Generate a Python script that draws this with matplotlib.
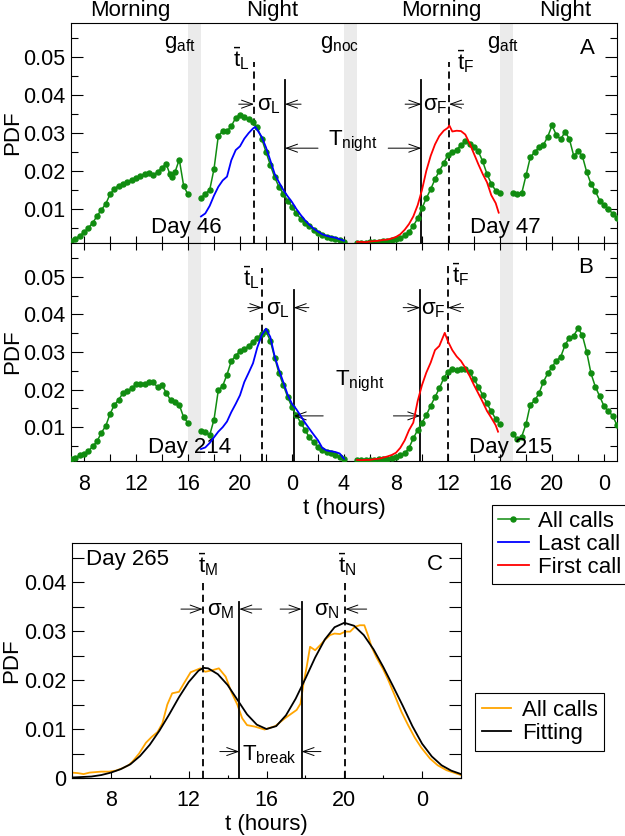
import matplotlib
matplotlib.use("Agg")
import matplotlib.pyplot as plt
from matplotlib.ticker import MultipleLocator, FuncFormatter

plt.rcParams['font.family'] = ['Liberation Sans', 'DejaVu Sans']
plt.rcParams['mathtext.default'] = 'regular'
plt.rcParams['font.size'] = 16

GREEN = '#108c10'
GRAY = '#ebebeb'

# ---------------- panel A (days 46 / 47) ----------------
a_morn_t = [7.00, 7.33, 7.67, 8.00, 8.33, 8.67, 9.00, 9.33, 9.67, 10.00, 10.33, 10.67, 11.00, 11.33,
            11.67, 12.00, 12.33, 12.67, 13.00, 13.33, 13.67, 14.00, 14.33, 14.60, 14.80, 15.00,
            15.33, 15.67, 16.00]
a_morn_p = [0.0014, 0.0021, 0.0029, 0.0038, 0.0050, 0.0063, 0.0081, 0.0097, 0.0113, 0.0138, 0.0153,
            0.0161, 0.0166, 0.0171, 0.0177, 0.0182, 0.0187, 0.0193, 0.0194, 0.0190, 0.0197, 0.0209,
            0.0218, 0.0192, 0.0184, 0.0197, 0.0230, 0.0160, 0.0138]
a_night_t = [17.00, 17.33, 17.67, 18.00, 18.33, 18.67, 19.00, 19.33, 19.67, 20.00, 20.33, 20.67,
             21.00, 21.33, 21.67, 22.00, 22.33, 22.67, 23.00, 23.33, 23.67, 24.00, 24.33, 24.67,
             25.00, 25.33, 25.67, 26.00, 26.33, 26.67, 27.00, 27.33, 27.67, 28.00]
a_night_p = [0.0128, 0.0140, 0.0150, 0.0205, 0.0292, 0.0305, 0.0305, 0.0318, 0.0340, 0.0348, 0.0342,
             0.0337, 0.0328, 0.0315, 0.0285, 0.0250, 0.0216, 0.0183, 0.0158, 0.0140, 0.0122, 0.0105,
             0.0088, 0.0074, 0.0064, 0.0054, 0.0045, 0.0037, 0.0031, 0.0027, 0.0024, 0.0021, 0.0018,
             0.0013]
a_morn2_t = [29.00, 29.33, 29.67, 30.00, 30.33, 30.67, 31.00, 31.33, 31.67, 32.00, 32.33, 32.67,
             33.00, 33.33, 33.67, 34.00, 34.33, 34.67, 35.00, 35.33, 35.67, 36.00, 36.33, 36.67,
             37.00, 37.33, 37.67, 38.00, 38.33, 38.67, 39.00, 39.33, 39.67, 40.00]
a_morn2_p = [0.0010, 0.0011, 0.0011, 0.0012, 0.0012, 0.0013, 0.0014, 0.0015, 0.0017, 0.0020, 0.0024,
             0.0030, 0.0040, 0.0055, 0.0075, 0.0102, 0.0128, 0.0152, 0.0178, 0.0200, 0.0220, 0.0243,
             0.0250, 0.0256, 0.0268, 0.0278, 0.0272, 0.0264, 0.0252, 0.0225, 0.0192, 0.0166, 0.0148,
             0.0142]
a_night2_t = [41.00, 41.33, 41.67, 42.00, 42.33, 42.67, 43.00, 43.33, 43.67, 44.00, 44.33, 44.67,
              45.00, 45.33, 45.67, 46.00, 46.33, 46.67, 47.00, 47.33, 47.67, 48.00, 48.33, 48.67, 49.00]
a_night2_p = [0.0143, 0.0140, 0.0141, 0.0188, 0.0236, 0.0250, 0.0262, 0.0268, 0.0290, 0.0320, 0.0295,
              0.0283, 0.0303, 0.0285, 0.0240, 0.0252, 0.0240, 0.0197, 0.0166, 0.0147, 0.0122, 0.0109,
              0.0100, 0.0087, 0.0076]
a_last_t = [17.00, 17.33, 17.67, 18.00, 18.33, 18.67, 19.00, 19.33, 19.67, 20.00, 20.33, 20.67, 21.00,
            21.17, 21.33, 21.67, 22.00, 22.33, 22.67, 23.00, 23.33, 23.67, 24.00, 24.33, 24.67, 25.00,
            25.33, 25.67, 26.00, 26.33, 26.67, 27.00, 27.33, 27.67, 28.00]
a_last_p = [0.0080, 0.0088, 0.0108, 0.0135, 0.0158, 0.0175, 0.0185, 0.0228, 0.0255, 0.0265, 0.0285,
            0.0300, 0.0312, 0.0316, 0.0308, 0.0290, 0.0262, 0.0228, 0.0192, 0.0170, 0.0150, 0.0133,
            0.0118, 0.0100, 0.0084, 0.0070, 0.0058, 0.0048, 0.0040, 0.0033, 0.0029, 0.0026, 0.0024,
            0.0020, 0.0016]
a_first_t = [29.00, 29.33, 29.67, 30.00, 30.33, 30.67, 31.00, 31.33, 31.67, 32.00, 32.33, 32.67, 33.00,
             33.33, 33.67, 34.00, 34.33, 34.67, 35.00, 35.33, 35.67, 36.00, 36.10, 36.33, 36.67, 37.00,
             37.33, 37.67, 38.00, 38.33, 38.67, 39.00, 39.33, 39.67, 39.90]
a_first_p = [0.0013, 0.0013, 0.0012, 0.0014, 0.0015, 0.0016, 0.0018, 0.0019, 0.0022, 0.0026, 0.0033,
             0.0045, 0.0060, 0.0080, 0.0110, 0.0150, 0.0200, 0.0240, 0.0270, 0.0292, 0.0306, 0.0314,
             0.0320, 0.0304, 0.0306, 0.0305, 0.0296, 0.0272, 0.0245, 0.0218, 0.0192, 0.0170, 0.0136,
             0.0115, 0.0090]

# ---------------- panel B (days 214 / 215) ----------------
b_morn_t = [7.00, 7.33, 7.67, 8.00, 8.33, 8.67, 9.00, 9.33, 9.67, 10.00, 10.33, 10.67, 11.00, 11.33,
            11.67, 12.00, 12.33, 12.67, 13.00, 13.33, 13.67, 14.00, 14.33, 14.67, 15.00, 15.33, 15.67,
            16.00]
b_morn_p = [0.0014, 0.0019, 0.0025, 0.0029, 0.0036, 0.0049, 0.0062, 0.0085, 0.0103, 0.0135, 0.0159,
            0.0173, 0.0191, 0.0197, 0.0203, 0.0214, 0.0215, 0.0216, 0.0219, 0.0219, 0.0206, 0.0212,
            0.0191, 0.0171, 0.0166, 0.0159, 0.0126, 0.0111]
b_night_t = a_night_t
b_night_p = [0.0089, 0.0087, 0.0079, 0.0120, 0.0198, 0.0210, 0.0240, 0.0276, 0.0290, 0.0303, 0.0308,
             0.0316, 0.0327, 0.0338, 0.0348, 0.0355, 0.0330, 0.0285, 0.0243, 0.0212, 0.0180, 0.0153,
             0.0132, 0.0112, 0.0093, 0.0073, 0.0060, 0.0047, 0.0038, 0.0033, 0.0030, 0.0026, 0.0020,
             0.0016]
b_morn2_t = a_morn2_t
b_morn2_p = [0.0012, 0.0012, 0.0012, 0.0013, 0.0013, 0.0014, 0.0015, 0.0016, 0.0018, 0.0021, 0.0025,
             0.0030, 0.0045, 0.0070, 0.0093, 0.0112, 0.0132, 0.0157, 0.0180, 0.0203, 0.0230, 0.0248,
             0.0255, 0.0251, 0.0255, 0.0254, 0.0246, 0.0228, 0.0208, 0.0185, 0.0163, 0.0142, 0.0122,
             0.0108]
b_night2_t = a_night2_t
b_night2_p = [0.0081, 0.0068, 0.0075, 0.0108, 0.0160, 0.0171, 0.0190, 0.0220, 0.0243, 0.0260, 0.0277,
              0.0287, 0.0318, 0.0338, 0.0343, 0.0363, 0.0345, 0.0300, 0.0243, 0.0208, 0.0182, 0.0156,
              0.0143, 0.0130, 0.0105]
b_last_t = [17.00, 17.33, 17.67, 18.00, 18.33, 18.67, 19.00, 19.33, 19.67, 20.00, 20.33, 20.67, 21.00,
            21.33, 21.67, 22.00, 22.33, 22.67, 23.00, 23.33, 23.67, 24.00, 24.33, 24.67, 25.00, 25.33,
            25.67, 26.00, 26.33, 26.67, 27.00, 27.33, 27.67, 28.00]
b_last_p = [0.0042, 0.0046, 0.0058, 0.0073, 0.0088, 0.0100, 0.0115, 0.0140, 0.0162, 0.0185, 0.0220,
            0.0245, 0.0270, 0.0312, 0.0345, 0.0362, 0.0340, 0.0288, 0.0252, 0.0220, 0.0186, 0.0162,
            0.0148, 0.0130, 0.0112, 0.0096, 0.0080, 0.0065, 0.0045, 0.0038, 0.0036, 0.0034, 0.0030,
            0.0016]
b_first_t = [29.00, 29.33, 29.67, 30.00, 30.33, 30.67, 31.00, 31.33, 31.67, 32.00, 32.33, 32.67, 33.00,
             33.33, 33.67, 34.00, 34.33, 34.67, 35.00, 35.33, 35.75, 36.00, 36.33, 36.67, 37.00, 37.33,
             37.67, 38.00, 38.33, 38.67, 39.00, 39.33, 39.67, 39.85]
b_first_p = [0.0013, 0.0012, 0.0013, 0.0013, 0.0015, 0.0016, 0.0019, 0.0022, 0.0026, 0.0032, 0.0045,
             0.0065, 0.0092, 0.0112, 0.0170, 0.0212, 0.0245, 0.0272, 0.0305, 0.0316, 0.0351, 0.0328,
             0.0305, 0.0288, 0.0276, 0.0258, 0.0236, 0.0212, 0.0190, 0.0167, 0.0143, 0.0125, 0.0105,
             0.0088]

# ---------------- panel C (day 265) ----------------
c_all_t = [6.0, 6.3, 6.6, 6.9, 7.2, 7.5, 7.9, 8.25, 8.6, 8.9, 9.1, 9.45, 9.8, 10.1, 10.4, 10.65, 10.9,
           11.15, 11.5, 11.75, 12.1, 12.35, 12.6, 12.85, 13.2, 13.55, 13.9, 14.2, 14.5, 14.75, 15.0,
           15.4, 15.9, 16.45, 16.95, 17.3, 17.55, 17.75, 17.9, 18.07, 18.24, 18.5, 18.75, 19.0, 19.27,
           19.5, 19.78, 20.04, 20.3, 20.55, 20.8, 21.03, 21.23, 21.4, 21.66, 22.0, 22.26, 22.6, 22.94,
           23.28, 23.63, 23.96, 24.4, 24.8, 25.25, 25.85, 26.0]
c_all_p = [0.0011, 0.0010, 0.0008, 0.0011, 0.0012, 0.0013, 0.0013, 0.0015, 0.0020, 0.0026, 0.0033,
           0.0050, 0.0072, 0.0084, 0.0094, 0.0112, 0.0150, 0.0173, 0.0176, 0.0193, 0.0216, 0.0220,
           0.0224, 0.0217, 0.0220, 0.0224, 0.0207, 0.0175, 0.0150, 0.0122, 0.0108, 0.0105, 0.0099,
           0.0106, 0.0122, 0.0132, 0.0139, 0.0152, 0.0192, 0.0228, 0.0268, 0.0261, 0.0271, 0.0282,
           0.0292, 0.0295, 0.0294, 0.0299, 0.0299, 0.0309, 0.0312, 0.0312, 0.0290, 0.0268, 0.0246,
           0.0222, 0.0200, 0.0168, 0.0135, 0.0108, 0.0082, 0.0062, 0.0040, 0.0026, 0.0016, 0.0008,
           0.0006]
c_fit_t = [6.0, 6.5, 7.0, 7.5, 8.0, 8.5, 9.0, 9.5, 10.0, 10.5, 11.0, 11.5, 12.0, 12.5, 12.75, 13.0,
           13.5, 14.0, 14.5, 15.0, 15.5, 16.0, 16.5, 17.0, 17.5, 18.0, 18.5, 19.0, 19.5, 20.0, 20.5,
           21.0, 21.5, 22.0, 22.5, 23.0, 23.5, 24.0, 24.5, 25.0, 25.5, 26.0]
c_fit_p = [0.0001, 0.0002, 0.0003, 0.0006, 0.0011, 0.0018, 0.0028, 0.0045, 0.0068, 0.0097, 0.0130,
           0.0165, 0.0196, 0.0219, 0.0225, 0.0224, 0.0212, 0.0190, 0.0160, 0.0130, 0.0109, 0.0100,
           0.0106, 0.0128, 0.0162, 0.0203, 0.0246, 0.0283, 0.0308, 0.0317, 0.0311, 0.0292, 0.0263,
           0.0227, 0.0188, 0.0148, 0.0106, 0.0070, 0.0044, 0.0026, 0.0015, 0.0008]

gaps = [(16, 17), (28, 29), (40, 41)]
periods = [(11.6, 'Morning'), (22.5, 'Night'), (35.5, 'Morning'), (45.0, 'Night')]


def hour_label(v, pos):
    return '%d' % (int(round(v)) % 24)


def arrow(ax, x0, x1, y):
    ax.annotate('', xy=(x1, y), xytext=(x0, y),
                arrowprops=dict(arrowstyle='->,head_length=0.5,head_width=0.18',
                                lw=0.7, color='black', shrinkA=0, shrinkB=0))


def style_top(ax, top_ticks):
    ax.set_xlim(7, 49)
    ax.set_ylim(0.001, 0.059)
    ax.xaxis.set_major_locator(MultipleLocator(4))
    ax.xaxis.set_minor_locator(MultipleLocator(2))
    ax.xaxis.set_major_formatter(FuncFormatter(hour_label))
    ax.yaxis.set_major_locator(MultipleLocator(0.01))
    ax.yaxis.set_minor_locator(MultipleLocator(0.005))
    ax.tick_params(axis='both', which='both', direction='in', right=True, top=top_ticks,
                   labelsize=15.5, width=0.8)
    ax.tick_params(axis='x', which='both', length=5, pad=9)
    ax.tick_params(axis='y', which='major', length=8.5, pad=4)
    ax.tick_params(axis='y', which='minor', length=5)
    ax.set_ylabel('PDF')
    ax.yaxis.set_label_coords(-0.088, 0.5)
    for g in gaps:
        ax.axvspan(g[0], g[1], color=GRAY, lw=0, zorder=0)


def draw_day(ax, d):
    for t, p in d['green']:
        ax.plot(t, p, color=GREEN, lw=1.1, marker='o', ms=3.6, zorder=3)
    ax.plot(d['last'][0], d['last'][1], color='#0000ff', lw=1.3, zorder=4)
    ax.plot(d['first'][0], d['first'][1], color='#ff0000', lw=1.3, zorder=4)


fig = plt.figure(figsize=(6.25, 8.36), dpi=100)
ax_a = fig.add_axes([71 / 625, 1 - 243 / 836, 546 / 625, 220 / 836])
ax_b = fig.add_axes([71 / 625, 1 - 461 / 836, 546 / 625, 218 / 836])
ax_c = fig.add_axes([72 / 625, 1 - 778 / 836, 389 / 625, 235 / 836])

style_top(ax_a, False)
style_top(ax_b, True)
ax_a.tick_params(axis='x', labelbottom=False)

draw_day(ax_a, {'green': [(a_morn_t, a_morn_p), (a_night_t, a_night_p),
                          (a_morn2_t, a_morn2_p), (a_night2_t, a_night2_p)],
                'last': (a_last_t, a_last_p), 'first': (a_first_t, a_first_p)})
draw_day(ax_b, {'green': [(b_morn_t, b_morn_p), (b_night_t, b_night_p),
                          (b_morn2_t, b_morn2_p), (b_night2_t, b_night2_p)],
                'last': (b_last_t, b_last_p), 'first': (b_first_t, b_first_p)})

for t, name in periods:
    ax_a.text(t, 1.058, name, transform=ax_a.get_xaxis_transform(), ha='center', va='center')

# panel A annotations
ax_a.plot([21.08, 21.08], [0.001, 0.0486], 'k--', lw=1.3, dashes=(4, 2.5))
ax_a.plot([36.08, 36.08], [0.001, 0.0486], 'k--', lw=1.3, dashes=(4, 2.5))
ax_a.plot([23.46, 23.46], [0.001, 0.0439], 'k-', lw=1.3)
ax_a.plot([33.95, 33.95], [0.001, 0.0439], 'k-', lw=1.3)
ax_a.text(20.1, 0.0497, r'$\bar{t}_L$', ha='center', va='center')
ax_a.text(37.35, 0.0489, r'$\bar{t}_F$', ha='center', va='center')
ax_a.text(22.25, 0.0372, r'$\sigma_L$', ha='center', va='center')
ax_a.text(35.0, 0.0372, r'$\sigma_F$', ha='center', va='center')
arrow(ax_a, 19.9, 21.08, 0.0376)
arrow(ax_a, 24.7, 23.46, 0.0376)
arrow(ax_a, 32.7, 33.95, 0.0376)
arrow(ax_a, 37.2, 36.08, 0.0376)
arrow(ax_a, 26.0, 23.46, 0.0260)
arrow(ax_a, 31.4, 33.95, 0.0260)
ax_a.text(28.7, 0.0278, r'$T_{night}$', ha='center', va='center')
ax_a.text(15.4, 0.0533, r'$g_{aft}$', ha='center', va='center')
ax_a.text(27.7, 0.0533, r'$g_{noc}$', ha='center', va='center')
ax_a.text(40.2, 0.0533, r'$g_{aft}$', ha='center', va='center')
ax_a.text(46.7, 0.0523, 'A', ha='center', va='center')
ax_a.text(15.9, 0.0050, 'Day 46', ha='center', va='center')
ax_a.text(40.4, 0.0050, 'Day 47', ha='center', va='center')

# panel B annotations
ax_b.plot([21.72, 21.72], [0.001, 0.0524], 'k--', lw=1.3, dashes=(4, 2.5))
ax_b.plot([36.0, 36.0], [0.001, 0.0532], 'k--', lw=1.3, dashes=(4, 2.5))
ax_b.plot([24.13, 24.13], [0.001, 0.0466], 'k-', lw=1.3)
ax_b.plot([33.87, 33.87], [0.001, 0.0466], 'k-', lw=1.3)
ax_b.text(20.85, 0.0497, r'$\bar{t}_L$', ha='center', va='center')
ax_b.text(37.0, 0.0506, r'$\bar{t}_F$', ha='center', va='center')
ax_b.text(22.9, 0.0414, r'$\sigma_L$', ha='center', va='center')
ax_b.text(34.9, 0.0414, r'$\sigma_F$', ha='center', va='center')
arrow(ax_b, 20.6, 21.72, 0.0418)
arrow(ax_b, 25.3, 24.13, 0.0418)
arrow(ax_b, 32.55, 33.87, 0.0418)
arrow(ax_b, 37.2, 36.0, 0.0418)
arrow(ax_b, 26.4, 24.13, 0.0130)
arrow(ax_b, 31.8, 33.87, 0.0130)
ax_b.text(29.2, 0.0222, r'$T_{night}$', ha='center', va='center')
ax_b.text(46.6, 0.0524, 'B', ha='center', va='center')
ax_b.text(16.1, 0.0046, 'Day 214', ha='center', va='center')
ax_b.text(40.8, 0.0046, 'Day 215', ha='center', va='center')
ax_b.set_xlabel('t (hours)', fontsize=16)
ax_b.xaxis.set_label_coords(0.5, -0.17)

# panel C
ax_c.plot(c_all_t, c_all_p, color='#ffa500', lw=1.3, label='All calls')
ax_c.plot(c_fit_t, c_fit_p, color='black', lw=1.3, label='Fitting')
ax_c.set_xlim(6, 26)
ax_c.set_ylim(0, 0.048)
ax_c.xaxis.set_major_locator(MultipleLocator(4))
ax_c.xaxis.set_minor_locator(MultipleLocator(2))
ax_c.xaxis.set_major_formatter(FuncFormatter(hour_label))
ax_c.yaxis.set_major_locator(MultipleLocator(0.01))
ax_c.yaxis.set_minor_locator(MultipleLocator(0.005))
ax_c.yaxis.set_major_formatter(FuncFormatter(lambda v, p: '0' if abs(v) < 1e-9 else '%.2f' % v))
ax_c.tick_params(axis='both', which='both', direction='in', right=True, labelsize=15.5, width=0.8)
ax_c.tick_params(axis='x', which='major', length=5, pad=9)
ax_c.tick_params(axis='x', which='minor', length=2.5)
ax_c.tick_params(axis='y', which='both', length=8.5, pad=4)
ax_c.set_ylabel('PDF')
ax_c.yaxis.set_label_coords(-0.127, 0.5)
ax_c.set_xlabel('t (hours)', fontsize=16)
ax_c.xaxis.set_label_coords(0.5, -0.155)

ax_c.plot([12.72, 12.72], [0, 0.0404], 'k--', lw=1.3, dashes=(4, 2.5))
ax_c.plot([20.05, 20.05], [0, 0.0400], 'k--', lw=1.3, dashes=(4, 2.5))
ax_c.plot([14.6, 14.6], [0, 0.0359], 'k-', lw=1.3)
ax_c.plot([17.8, 17.8], [0, 0.0359], 'k-', lw=1.3)
ax_c.text(13.0, 0.0435, r'$\bar{t}_M$', ha='center', va='center')
ax_c.text(20.15, 0.0435, r'$\bar{t}_N$', ha='center', va='center')
ax_c.text(13.65, 0.0343, r'$\sigma_M$', ha='center', va='center')
ax_c.text(19.1, 0.0343, r'$\sigma_N$', ha='center', va='center')
arrow(ax_c, 11.6, 12.72, 0.0345)
arrow(ax_c, 15.75, 14.6, 0.0345)
arrow(ax_c, 16.7, 17.8, 0.0345)
arrow(ax_c, 21.15, 20.05, 0.0345)
arrow(ax_c, 13.6, 14.6, 0.0054)
arrow(ax_c, 18.8, 17.8, 0.0054)
ax_c.text(16.15, 0.0047, r'$T_{break}$', ha='center', va='center')
ax_c.text(6.7, 0.0447, 'Day 265', ha='left', va='center')
ax_c.text(24.65, 0.0437, 'C', ha='center', va='center')

# legends
h = ax_a.get_lines()
leg1 = fig.legend([h[0], h[4], h[5]], ['All calls', 'Last call', 'First call'],
                  loc='upper left', bbox_to_anchor=(492 / 625, 1 - 505 / 836), fontsize=16,
                  frameon=True, fancybox=False, edgecolor='black', framealpha=1,
                  handlelength=1.4, handletextpad=0.4, labelspacing=0.1, borderpad=0.25,
                  borderaxespad=0)
leg1.get_frame().set_linewidth(0.8)
leg2 = fig.legend(ax_c.get_lines()[:2], ['All calls', 'Fitting'],
                  loc='upper left', bbox_to_anchor=(475 / 625, 1 - 693 / 836), fontsize=16,
                  frameon=True, fancybox=False, edgecolor='black', framealpha=1,
                  handlelength=1.3, handletextpad=0.5, labelspacing=0.1, borderpad=0.3,
                  borderaxespad=0)
leg2.get_frame().set_linewidth(0.8)

fig.savefig('out.png', dpi=100)
